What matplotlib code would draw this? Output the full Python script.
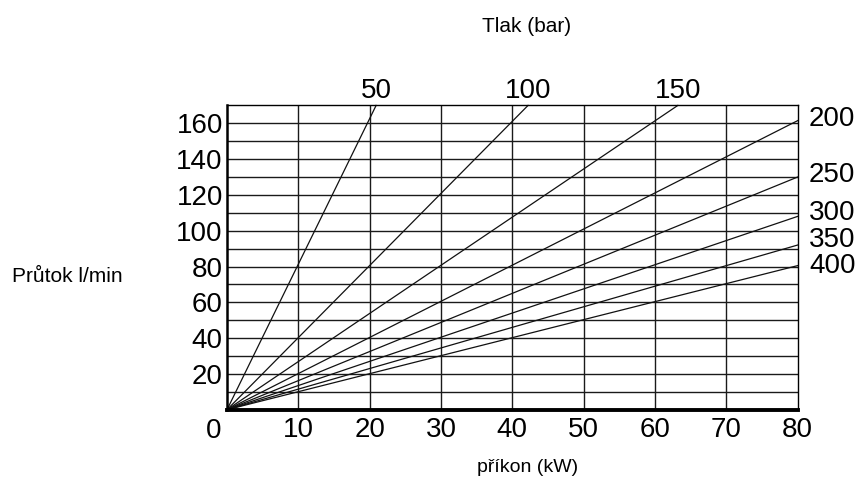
import matplotlib
matplotlib.use("Agg")
import matplotlib.pyplot as plt

plt.rcParams['font.family'] = ['Liberation Sans', 'DejaVu Sans']

# data
pressures = [50, 100, 150, 200, 250, 300, 350, 400]          # bar
end_power = [20.9, 42.2, 63.2, 80, 80, 80, 80, 80]            # kW at line end
end_flow = [170, 170, 170, 161.5, 130, 108, 92, 80.5]         # l/min at line end
x_ticks = [10, 20, 30, 40, 50, 60, 70, 80]
y_ticks = [20, 40, 60, 80, 100, 120, 140, 160]
# right-side label positions (flow) for pressures ending on the right edge
right_label_flow = [162.5, 131, 110, 94.8, 80.3]

fig = plt.figure(figsize=(8.59, 4.91), dpi=100)
ax = fig.add_axes([0.2643, 0.1656, 0.6643, 0.6197])
ax.set_xlim(0, 80)
ax.set_ylim(0, 170)

for v in range(10, 80, 10):
    ax.axvline(v, color='#1a1a1a', lw=1.0, zorder=1)
for v in range(10, 170, 10):
    ax.axhline(v, color='#1a1a1a', lw=1.0, zorder=1)

for p, xe, ye in zip(pressures, end_power, end_flow):
    ax.plot([0, xe], [0, ye], color='#111111', lw=0.9, zorder=2, clip_on=False)

ax.set_xticks(x_ticks)
ax.set_xticklabels([str(t) for t in x_ticks], fontsize=20)
ax.set_yticks(y_ticks)
ax.set_yticklabels([str(t) for t in y_ticks], fontsize=20)
ax.tick_params(axis='x', length=0, pad=5)
ax.tick_params(axis='y', length=0, pad=3)
ax.text(-1.9, -4.6, '0', fontsize=20, ha='center', va='top')

for s in ['top', 'right']:
    ax.spines[s].set_linewidth(1.0)
ax.spines['left'].set_linewidth(1.8)
ax.spines['bottom'].set_linewidth(2.8)

# pressure labels
ri = 0
for p, xe, ye in zip(pressures, end_power, end_flow):
    if ye >= 169:
        ax.text(xe, 174.1, str(p), fontsize=20, ha='center', va='baseline')
    else:
        ax.text(81.6, right_label_flow[ri], str(p), fontsize=20, ha='left', va='center')
        ri += 1

fig.text(527 / 859, 1 - 26 / 491, 'Tlak (bar)', fontsize=15, ha='center', va='center')
fig.text(67.5 / 859, 1 - 276 / 491, 'Průtok l/min', fontsize=15, ha='center', va='center')
fig.text(528 / 859, 1 - 467 / 491, 'příkon (kW)', fontsize=14, ha='center', va='center')

fig.savefig('out.png', dpi=100)
